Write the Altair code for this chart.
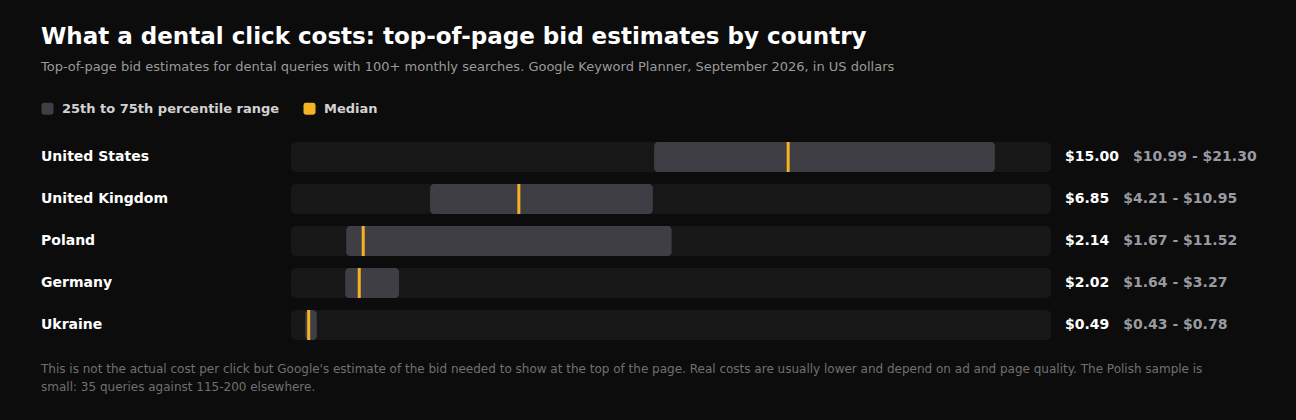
import altair as alt
import pandas as pd

countries = ["United States", "United Kingdom", "Poland", "Germany", "Ukraine"]
median = [15.00, 6.85, 2.14, 2.02, 0.49]
p25 = [10.99, 4.21, 1.67, 1.64, 0.43]
p75 = [21.30, 10.95, 11.52, 3.27, 0.78]
x_max = 23

title_text = "What a dental click costs: top-of-page bid estimates by country"
subtitle_text = ("Top-of-page bid estimates for dental queries with 100+ monthly searches. "
                 "Google Keyword Planner, September 2026, in US dollars")
footnote_lines = [
    "This is not the actual cost per click but Google's estimate of the bid needed to show at the top of the page. "
    "Real costs are usually lower and depend on ad and page quality. The Polish sample is",
    "small: 35 queries against 115-200 elsewhere.",
]
legend_labels = ["25th to 75th percentile range", "Median"]

BG = "#0c0c0c"
TRACK = "#171717"
RANGE = "#3f3e45"
MED = "#f5b324"
FONT = "DejaVu Sans"

# dark page background around the chart (page margin)
try:
    import altair.utils.html as _ah
    _orig_tpl = _ah.TEMPLATES["standard"]

    class _DarkTemplate:
        def render(self, *args, **kwargs):
            html = _orig_tpl.render(*args, **kwargs)
            return html.replace(
                "<head>", "<head><style>html,body{background:%s;}</style>" % BG, 1)

    _ah.TEMPLATES["standard"] = _DarkTemplate()
except Exception:
    pass

df = pd.DataFrame({"country": countries, "median": median, "p25": p25, "p75": p75})
df["med_label"] = [f"${v:.2f}" for v in median]
df["rng_label"] = [f"${a:.2f} - ${b:.2f}" for a, b in zip(p25, p75)]

base = alt.Chart(df)
y = alt.Y("country:N", sort=countries, axis=None,
          scale=alt.Scale(paddingInner=0, paddingOuter=0))
xs = alt.Scale(domain=[0, x_max], nice=False, zero=True)

track = base.mark_bar(height=30, cornerRadius=5, color=TRACK).encode(
    x=alt.X("zero:Q", scale=xs, axis=None),
    x2=alt.X2("xmax:Q"),
    y=y,
).transform_calculate(zero="0", xmax=str(x_max))

color_scale = alt.Scale(domain=legend_labels, range=[RANGE, MED])
legend = alt.Legend(
    orient="none", legendX=-250, legendY=-34, direction="horizontal", title=None,
    symbolType="M-0.6,-1H0.6Q1,-1 1,-0.6V0.6Q1,1 0.6,1H-0.6Q-1,1 -1,0.6V-0.6Q-1,-1 -0.6,-1Z",
    symbolSize=144, symbolStrokeWidth=0, symbolOpacity=1,
    labelColor="#d2d2d2", labelFont=FONT, labelFontSize=13, labelFontWeight="bold",
    labelOffset=8, labelLimit=400, columnPadding=23, padding=0,
)

rng = base.mark_bar(height=30, cornerRadius=4).encode(
    x=alt.X("p25:Q", scale=xs, axis=None),
    x2="p75:Q",
    y=y,
    color=alt.Color("kind:N", scale=color_scale, legend=legend),
).transform_calculate(kind=f"'{legend_labels[0]}'")

med = base.mark_tick(thickness=3, size=30, opacity=1, xOffset=1.5).encode(
    x=alt.X("median:Q", scale=xs, axis=None),
    y=y,
    color=alt.Color("kind:N", scale=color_scale, legend=legend),
).transform_calculate(kind=f"'{legend_labels[1]}'")

labels = base.mark_text(align="left", baseline="middle", font=FONT, fontSize=14,
                        fontWeight="bold", color="#ffffff").encode(
    x=alt.value(-250), y=y, text="country:N")

med_text = base.mark_text(align="left", baseline="middle", font=FONT, fontSize=14,
                          fontWeight="bold", color="#ffffff").encode(
    x=alt.value(774), y=y, text="med_label:N")

rng_text = base.mark_text(align="left", baseline="middle", font=FONT, fontSize=14,
                          fontWeight="bold", color="#9a9aa2").encode(
    x=alt.X("rx:Q", scale=None), y=y, text="rng_label:N"
).transform_calculate(rx="774 + (length(datum.med_label) - 1) * 9.74 + 5.32 + 14")

one = pd.DataFrame({"k": [0]})
title = alt.Chart(one).mark_text(align="left", baseline="alphabetic", font=FONT, fontSize=23,
                                 fontWeight="bold", color="#ffffff").encode(
    x=alt.value(-250), y=alt.value(-92), text=alt.value(title_text))
subtitle = alt.Chart(one).mark_text(align="left", baseline="alphabetic", font=FONT, fontSize=13,
                                    color="#9a9a9a").encode(
    x=alt.value(-250), y=alt.value(-65), text=alt.value(subtitle_text))
foot = alt.Chart(one).mark_text(align="left", baseline="alphabetic", font=FONT, fontSize=12,
                                color="#707070", lineHeight=18).encode(
    x=alt.value(-250), y=alt.value(237), text=alt.value(footnote_lines))

chart = alt.layer(track, rng, med, labels, med_text, rng_text, title, subtitle, foot).properties(
    width=760, height=210,
    autosize=alt.AutoSizeParams(type="none"),
    padding={"left": 283, "top": 128, "right": 237, "bottom": 66},
    background=BG,
).configure_view(stroke=None)

chart.save("out.html", embed_options={"renderer": "svg", "actions": False})
